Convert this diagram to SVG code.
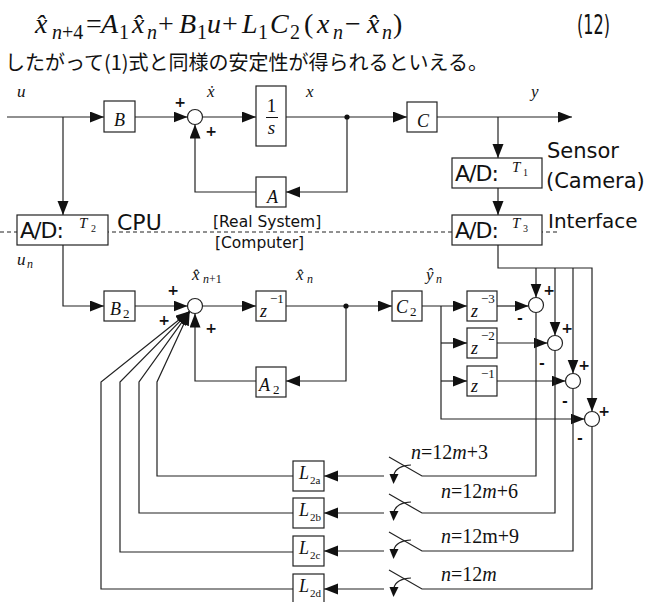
<svg xmlns="http://www.w3.org/2000/svg" width="651" height="602" viewBox="0 0 651 602">
<defs>
<style>
.ln{fill:none;stroke:#222;stroke-width:1.2}
.bx{fill:#fff;stroke:#222;stroke-width:1.2}
.sm{fill:#fff;stroke:#222;stroke-width:1.2}
.m{font-family:"Liberation Serif",serif;font-style:italic;fill:#111}
.r{font-family:"Liberation Serif",serif;font-style:normal;fill:#111}
.s{font-family:"DejaVu Sans",sans-serif;fill:#111}
.pm{font-family:"DejaVu Sans",sans-serif;font-weight:bold;font-size:14px;fill:#111;text-anchor:middle}
.jp{font-family:"Noto Sans CJK JP",sans-serif;fill:#111}
.arr{fill:#111;stroke:none}
</style>
<marker id="ah" markerUnits="userSpaceOnUse" markerWidth="15" markerHeight="12" refX="14" refY="5.5" orient="auto">
<path d="M0,0 L14,5.5 L0,11 z" fill="#111"/>
</marker>
</defs>
<rect x="0" y="0" width="651" height="602" fill="#fff"/>

<g id="equation">
<text class="m" font-size="28" x="35" y="33">x̂</text>
<text class="m" font-size="20" x="52" y="39">n<tspan class="r">+4</tspan></text>
<text class="r" font-size="28" x="86" y="33">=</text>
<text class="m" font-size="28" x="101" y="33">A</text>
<text class="r" font-size="20" x="119" y="39">1</text>
<text class="m" font-size="28" x="132" y="33">x̂</text>
<text class="m" font-size="20" x="147" y="39">n</text>
<text class="r" font-size="28" x="158" y="33">+</text>
<text class="m" font-size="28" x="179" y="33">B</text>
<text class="r" font-size="20" x="197" y="39">1</text>
<text class="m" font-size="28" x="207" y="33">u</text>
<text class="r" font-size="28" x="222" y="33">+</text>
<text class="m" font-size="28" x="242" y="33">L</text>
<text class="r" font-size="20" x="258" y="39">1</text>
<text class="m" font-size="28" x="270" y="33">C</text>
<text class="r" font-size="20" x="290" y="39">2</text>
<text class="r" font-size="28" x="304" y="33">(</text>
<text class="m" font-size="28" x="317" y="33">x</text>
<text class="m" font-size="20" x="333" y="39">n</text>
<text class="r" font-size="28" x="345" y="33">−</text>
<text class="m" font-size="28" x="367" y="33">x̂</text>
<text class="m" font-size="20" x="382" y="39">n</text>
<text class="r" font-size="28" x="393" y="33">)</text>
<text class="s" font-size="26" x="577" y="34" textLength="33" lengthAdjust="spacingAndGlyphs">(12)</text>
</g>
<g id="sentence">
<text class="jp" font-size="20" x="5" y="70">したがって(1)式と同様の安定性が得られるといえる。</text>
</g>

<g id="divider">
<path d="M0,232 H560" fill="none" stroke="#222" stroke-width="1" stroke-dasharray="4,3"/>
</g>

<g id="connectors">
<path class="ln" d="M7,117 H104" marker-end="url(#ah)"/>
<path class="ln" d="M63,117 V215" marker-end="url(#ah)"/>
<path class="ln" d="M135,117 H187.5" marker-end="url(#ah)"/>
<path class="ln" d="M202.5,117 H256" marker-end="url(#ah)"/>
<path class="ln" d="M286,117 H407" marker-end="url(#ah)"/>
<path class="ln" d="M437,117 H572" marker-end="url(#ah)"/>
<path class="ln" d="M498,117 V158" marker-end="url(#ah)"/>
<path class="ln" d="M498,188 V215" marker-end="url(#ah)"/>
<path class="ln" d="M347,117 V192 H286" marker-end="url(#ah)"/>
<path class="ln" d="M256,192 H195 V124.5" marker-end="url(#ah)"/>

<path class="ln" d="M63,245 V306 H104" marker-end="url(#ah)"/>
<path class="ln" d="M135,306 H187.5" marker-end="url(#ah)"/>
<path class="ln" d="M202.5,306 H256" marker-end="url(#ah)"/>
<path class="ln" d="M286,306 H392" marker-end="url(#ah)"/>
<path class="ln" d="M346,306 V381 H286" marker-end="url(#ah)"/>
<path class="ln" d="M256,381 H195 V313.5" marker-end="url(#ah)"/>
<path class="ln" d="M422,306 H467" marker-end="url(#ah)"/>
<path class="ln" d="M441,306 V419 H584.5" marker-end="url(#ah)"/>
<path class="ln" d="M441,343 H467" marker-end="url(#ah)"/>
<path class="ln" d="M441,381 H467" marker-end="url(#ah)"/>
<path class="ln" d="M497,306 H528.5" marker-end="url(#ah)"/>
<path class="ln" d="M497,343 H547.5" marker-end="url(#ah)"/>
<path class="ln" d="M497,381 H565.5" marker-end="url(#ah)"/>
<path class="ln" d="M498,245 V268 H592 V411.5" marker-end="url(#ah)"/>
<path class="ln" d="M536,268 V297.5" marker-end="url(#ah)"/>
<path class="ln" d="M555,268 V335.5" marker-end="url(#ah)"/>
<path class="ln" d="M573,268 V373.5" marker-end="url(#ah)"/>

<path class="ln" d="M536,312.5 V476 H422 L389,457"/>
<path class="ln" d="M555,350.5 V513 H422 L389,494"/>
<path class="ln" d="M573,388.5 V551 H422 L389,532"/>
<path class="ln" d="M592,426.5 V589 H422 L389,570"/>

<path class="ln" d="M384,476 H324" marker-end="url(#ah)"/>
<path class="ln" d="M384,513 H324" marker-end="url(#ah)"/>
<path class="ln" d="M384,551 H324" marker-end="url(#ah)"/>
<path class="ln" d="M384,589 H324" marker-end="url(#ah)"/>

<path class="ln" d="M411,465 C402,465 395,469 394,475"/>
<polygon class="arr" points="389.5,474 398.5,474 393.5,484"/>
<path class="ln" d="M411,502 C402,502 395,506 394,512"/>
<polygon class="arr" points="389.5,511 398.5,511 393.5,521"/>
<path class="ln" d="M411,540 C402,540 395,544 394,550"/>
<polygon class="arr" points="389.5,549 398.5,549 393.5,559"/>
<path class="ln" d="M411,578 C402,578 395,582 394,588"/>
<polygon class="arr" points="389.5,587 398.5,587 393.5,597"/>

<path class="ln" d="M293,476 H157 V382 L189.7,311.3" marker-end="url(#ah)"/>
<path class="ln" d="M293,513 H139 V382 L189.7,311.3" marker-end="url(#ah)"/>
<path class="ln" d="M293,552 H120 V382 L189.7,311.3" marker-end="url(#ah)"/>
<path class="ln" d="M293,589 H101 V382 L189.7,311.3" marker-end="url(#ah)"/>

<circle cx="347" cy="117" r="2.6" fill="#111"/>
<circle cx="346" cy="306" r="2.6" fill="#111"/>
</g>

<g id="label-u"><text class="m" font-size="17" x="17" y="97">u</text></g>
<g id="label-xdot"><text class="m" font-size="17" x="207" y="97">ẋ</text></g>
<g id="label-x"><text class="m" font-size="17" x="306" y="97">x</text></g>
<g id="label-y"><text class="m" font-size="17" x="531" y="97">y</text></g>

<g id="B"><rect class="bx" x="104" y="101" width="31" height="31"/><text class="m" font-size="18" x="114" y="126">B</text></g>
<g id="sum1"><circle class="sm" cx="195" cy="117" r="7.5"/>
<text class="pm" x="180" y="107">+</text><text class="pm" x="211" y="136">+</text></g>
<g id="integrator"><rect class="bx" x="256" y="86" width="30" height="60"/>
<text class="r" font-size="19" x="271.5" y="112" text-anchor="middle">1</text>
<path d="M266,117.5 H278" stroke="#111" stroke-width="1"/>
<text class="m" font-size="19" x="271.5" y="134" text-anchor="middle">s</text></g>
<g id="A"><rect class="bx" x="256" y="177" width="30" height="30"/><text class="m" font-size="18" x="267" y="203">A</text></g>
<g id="C"><rect class="bx" x="407" y="102" width="30" height="30"/><text class="m" font-size="18" x="417" y="127">C</text></g>

<g id="AD-T1"><rect class="bx" x="452" y="158" width="90" height="30"/>
<text class="s" font-size="22" x="455" y="181" letter-spacing="-1">A/D:</text>
<text class="m" font-size="15" x="512" y="172">T</text><text class="r" font-size="10" x="523" y="176">1</text></g>
<g id="AD-T3"><rect class="bx" x="452" y="215" width="90" height="30"/>
<text class="s" font-size="22" x="455" y="238" letter-spacing="-1">A/D:</text>
<text class="m" font-size="15" x="512" y="228">T</text><text class="r" font-size="10" x="523" y="232">3</text></g>
<g id="AD-T2"><rect class="bx" x="17" y="215" width="91" height="30"/>
<text class="s" font-size="22" x="20" y="238" letter-spacing="-1">A/D:</text>
<text class="m" font-size="15" x="79" y="228">T</text><text class="r" font-size="10" x="91" y="232">2</text></g>

<g id="text-labels">
<text class="s" font-size="22" x="117" y="230">CPU</text>
<text class="s" font-size="21" x="547" y="158">Sensor</text>
<text class="s" font-size="21" x="546" y="188">(Camera)</text>
<text class="s" font-size="20" x="548" y="228">Interface</text>
<text class="s" font-size="15.5" x="213" y="227">[Real System]</text>
<text class="s" font-size="15.5" x="215" y="248">[Computer]</text>
</g>

<g id="label-un"><text class="m" font-size="17" x="17" y="265">u</text><text class="m" font-size="12" x="27" y="268">n</text></g>
<g id="label-xhat-n1"><text class="m" font-size="17" x="192" y="280">x̂</text><text class="m" font-size="12" x="203" y="283">n<tspan class="r">+1</tspan></text></g>
<g id="label-xhat-n"><text class="m" font-size="17" x="296" y="280">x̂</text><text class="m" font-size="12" x="307" y="283">n</text></g>
<g id="label-yhat-n"><text class="m" font-size="17" x="426" y="280">ŷ</text><text class="m" font-size="12" x="436" y="283">n</text></g>

<g id="B2"><rect class="bx" x="104" y="291" width="31" height="30"/><text class="m" font-size="18" x="110" y="315">B</text><text class="r" font-size="13" x="123" y="318">2</text></g>
<g id="sum2"><circle class="sm" cx="195" cy="306" r="7.5"/>
<text class="pm" x="173" y="295">+</text><text class="pm" x="164" y="325">+</text><text class="pm" x="211" y="333">+</text></g>
<g id="z1"><rect class="bx" x="256" y="291" width="30" height="30"/><text class="m" font-size="18" x="260" y="317">z</text><text class="r" font-size="13" x="270" y="303">−1</text></g>
<g id="A2"><rect class="bx" x="256" y="367" width="30" height="30"/><text class="m" font-size="18" x="259" y="391">A</text><text class="r" font-size="13" x="273" y="394">2</text></g>
<g id="C2"><rect class="bx" x="392" y="291" width="30" height="30"/><text class="m" font-size="18" x="396" y="313">C</text><text class="r" font-size="13" x="410" y="316">2</text></g>
<g id="zd3"><rect class="bx" x="467" y="291" width="30" height="30"/><text class="m" font-size="18" x="471" y="317">z</text><text class="r" font-size="13" x="481" y="303">−3</text></g>
<g id="zd2"><rect class="bx" x="467" y="328" width="30" height="30"/><text class="m" font-size="18" x="471" y="354">z</text><text class="r" font-size="13" x="481" y="340">−2</text></g>
<g id="zd1"><rect class="bx" x="467" y="366" width="30" height="30"/><text class="m" font-size="18" x="471" y="392">z</text><text class="r" font-size="13" x="481" y="378">−1</text></g>

<g id="sumA"><circle class="sm" cx="536" cy="305" r="7.5"/><text class="pm" x="549" y="295">+</text><text class="pm" x="520" y="323">-</text></g>
<g id="sumB"><circle class="sm" cx="555" cy="343" r="7.5"/><text class="pm" x="567" y="333">+</text><text class="pm" x="542" y="368">-</text></g>
<g id="sumC"><circle class="sm" cx="573" cy="381" r="7.5"/><text class="pm" x="584" y="370">+</text><text class="pm" x="565" y="406">-</text></g>
<g id="sumD"><circle class="sm" cx="592" cy="419" r="7.5"/><text class="pm" x="604" y="416">+</text><text class="pm" x="580" y="443">-</text></g>

<g id="L2a"><rect class="bx" x="293" y="461" width="31" height="30"/><text class="m" font-size="18" x="299" y="479">L</text><text class="r" font-size="11" x="310" y="484">2a</text></g>
<g id="L2b"><rect class="bx" x="293" y="498" width="31" height="30"/><text class="m" font-size="18" x="299" y="516">L</text><text class="r" font-size="11" x="310" y="521">2b</text></g>
<g id="L2c"><rect class="bx" x="293" y="536" width="31" height="30"/><text class="m" font-size="18" x="299" y="554">L</text><text class="r" font-size="11" x="310" y="559">2c</text></g>
<g id="L2d"><rect class="bx" x="293" y="574" width="31" height="30"/><text class="m" font-size="18" x="299" y="592">L</text><text class="r" font-size="11" x="310" y="597">2d</text></g>

<g id="switch-labels">
<text class="m" font-size="20" x="411" y="459">n<tspan class="r">=12</tspan>m<tspan class="r">+3</tspan></text>
<text class="m" font-size="20" x="441" y="498">n<tspan class="r">=12</tspan>m<tspan class="r">+6</tspan></text>
<text class="m" font-size="20" x="441" y="543">n<tspan class="r">=12m+9</tspan></text>
<text class="m" font-size="20" x="441" y="581">n<tspan class="r">=12</tspan>m</text>
</g>
</svg>
